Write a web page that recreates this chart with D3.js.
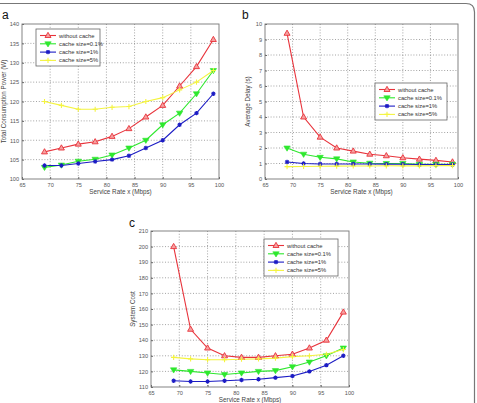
<!DOCTYPE html>
<html>
<head>
<meta charset="utf-8">
<script src="https://cdn.jsdelivr.net/npm/d3@7"></script>
<style>
  body { margin: 0; background: #fff; }
  svg { display: block; font-family: "Liberation Sans", Arial, sans-serif; }
</style>
</head>
<body>
<div id="chart"></div>
<script>
// service rate on the x axis, shared by all three panels
const rates = [69, 72, 75, 78, 81, 84, 87, 90, 93, 96, 99];
const seriesNames = ["without cache", "cache size=0.1%", "cache size=1%", "cache size=5%"];

// (a) total consumption power
const powerNoCache = [107, 108, 109, 109.6, 111, 113, 116, 119, 124, 129, 136];
const powerCache01 = [103, 103.6, 104.6, 105.1, 106.2, 108, 110, 114, 117, 122, 128];
const powerCache1 = [103.5, 103.5, 104, 104.5, 105, 106, 108, 110, 114, 117, 122];
const powerCache5 = [120, 119, 118, 118, 118.5, 118.7, 120, 121, 123, 125, 128];

// (b) average delay
const delayNoCache = [9.4, 4.0, 2.7, 2.0, 1.8, 1.6, 1.5, 1.37, 1.28, 1.2, 1.1];
const delayCache01 = [2.0, 1.6, 1.4, 1.3, 1.1, 1.02, 1.0, 1.0, 0.95, 0.95, 0.95];
const delayCache1 = [1.1, 1.0, 0.97, 0.97, 0.97, 0.97, 0.96, 0.95, 0.94, 0.93, 0.93];
const delayCache5 = [0.8, 0.81, 0.82, 0.83, 0.84, 0.84, 0.85, 0.85, 0.85, 0.86, 0.86];

// (c) system cost
const costNoCache = [200, 147, 135, 130, 129, 129, 130, 131, 135, 140, 158];
const costCache01 = [121, 120, 119, 118, 119, 120, 120.5, 123, 126, 130, 135];
const costCache1 = [114, 113.5, 113.5, 114, 114.5, 115, 116, 117, 120, 124, 130];
const costCache5 = [129, 128, 127.5, 127.5, 127.8, 128, 128.5, 129.5, 130, 131, 134];

const xTicks = [65, 70, 75, 80, 85, 90, 95, 100];
const powerTicks = [100, 105, 110, 115, 120, 125, 130, 135, 140];
const delayTicks = [0, 1, 2, 3, 4, 5, 6, 7, 8, 9, 10];
const costTicks = [110, 120, 130, 140, 150, 160, 170, 180, 190, 200, 210];

const colors = ["#e8333b", "#2ee82e", "#1c1cc4", "#f4f440"];
const markerKinds = ["up", "down", "star", "plus"];

const W = 477, H = 403;
const svg = d3.select("#chart").append("svg")
  .attr("width", W).attr("height", H);

// outer frame of the figure (top and right edges, rounded corner)
svg.append("path")
  .attr("d", "M0,3.5 H466 Q474.5,3.5 474.5,12 V403")
  .attr("fill", "none").attr("stroke", "#777").attr("stroke-width", 1.2);

function drawMarker(g, kind, color, cx, cy) {
  if (kind === "up") {
    g.append("path")
      .attr("d", `M${cx},${cy - 3.2} L${cx + 3},${cy + 2} L${cx - 3},${cy + 2} Z`)
      .attr("fill", "#f5a0a0").attr("stroke", color).attr("stroke-width", 0.9);
  } else if (kind === "down") {
    g.append("path")
      .attr("d", `M${cx},${cy + 3.2} L${cx + 3.2},${cy - 2} L${cx - 3.2},${cy - 2} Z`)
      .attr("fill", color).attr("stroke", color).attr("stroke-width", 0.6);
  } else if (kind === "star") {
    g.append("path")
      .attr("d", `M${cx - 2.2},${cy} H${cx + 2.2} M${cx},${cy - 2.2} V${cy + 2.2} M${cx - 1.6},${cy - 1.6} L${cx + 1.6},${cy + 1.6} M${cx - 1.6},${cy + 1.6} L${cx + 1.6},${cy - 1.6}`)
      .attr("stroke", color).attr("stroke-width", 1.1);
  } else {
    g.append("path")
      .attr("d", `M${cx - 2.6},${cy} H${cx + 2.6} M${cx},${cy - 2.6} V${cy + 2.6}`)
      .attr("stroke", color).attr("stroke-width", 1.1);
  }
}

function drawPanel(opt) {
  const g = svg.append("g");
  const x = d3.scaleLinear().domain([65, 100]).range([opt.left, opt.right]);
  const y = d3.scaleLinear().domain(opt.yDomain).range([opt.bottom, opt.top]);

  g.append("rect")
    .attr("x", opt.left).attr("y", opt.top)
    .attr("width", opt.right - opt.left).attr("height", opt.bottom - opt.top)
    .attr("fill", "#fff");

  // dotted grid
  g.append("g").selectAll("line.vg")
    .data(xTicks.slice(1, -1)).join("line")
    .attr("x1", d => x(d)).attr("x2", d => x(d))
    .attr("y1", opt.top).attr("y2", opt.bottom)
    .attr("stroke", "#666").attr("stroke-width", 0.6).attr("stroke-dasharray", "1,1.8");
  g.append("g").selectAll("line.hg")
    .data(opt.yTicks.slice(1, -1)).join("line")
    .attr("x1", opt.left).attr("x2", opt.right)
    .attr("y1", d => y(d)).attr("y2", d => y(d))
    .attr("stroke", "#666").attr("stroke-width", 0.6).attr("stroke-dasharray", "1,1.8");

  // axes with inward ticks
  const xAxis = g.append("g").attr("transform", `translate(0,${opt.bottom})`)
    .call(d3.axisBottom(x).tickValues(xTicks).tickSizeInner(-2).tickSizeOuter(0).tickPadding(4));
  const yAxis = g.append("g").attr("transform", `translate(${opt.left},0)`)
    .call(d3.axisLeft(y).tickValues(opt.yTicks).tickSizeInner(-2).tickSizeOuter(0).tickPadding(3));
  [xAxis, yAxis].forEach(a => {
    a.select(".domain").remove();
    a.selectAll("line").attr("stroke", "#666");
    a.selectAll("text").attr("fill", "#555").style("font-size", "5.6px");
  });

  g.append("rect")
    .attr("x", opt.left).attr("y", opt.top)
    .attr("width", opt.right - opt.left).attr("height", opt.bottom - opt.top)
    .attr("fill", "none").attr("stroke", "#777").attr("stroke-width", 0.9);

  // series
  const line = d3.line().x((d, i) => x(rates[i])).y(d => y(d));
  opt.series.forEach((vals, k) => {
    g.append("path").datum(vals)
      .attr("d", line).attr("fill", "none")
      .attr("stroke", colors[k]).attr("stroke-width", 1.1);
  });
  opt.series.forEach((vals, k) => {
    vals.forEach((v, i) => drawMarker(g, markerKinds[k], colors[k], x(rates[i]), y(v)));
  });

  // titles
  g.append("text")
    .attr("x", (opt.left + opt.right) / 2).attr("y", opt.bottom + 15)
    .attr("text-anchor", "middle").attr("fill", "#444").style("font-size", "6.3px")
    .text("Service Rate x (Mbps)");
  g.append("text")
    .attr("transform", `translate(${opt.yTitleX},${(opt.top + opt.bottom) / 2}) rotate(-90)`)
    .attr("text-anchor", "middle").attr("fill", "#444").style("font-size", "6.3px")
    .text(opt.yTitle);
  g.append("text")
    .attr("x", opt.labelX).attr("y", opt.labelY)
    .attr("fill", "#111").style("font-size", "12px")
    .text(opt.label);

  // legend
  const lg = g.append("g").attr("transform", `translate(${opt.legX},${opt.legY})`);
  lg.append("rect").attr("width", opt.legW).attr("height", 37)
    .attr("fill", "#fff").attr("stroke", "#666").attr("stroke-width", 0.8);
  seriesNames.forEach((name, k) => {
    const ry = 6.5 + k * 8.3;
    lg.append("line").attr("x1", 4).attr("x2", 20).attr("y1", ry).attr("y2", ry)
      .attr("stroke", colors[k]).attr("stroke-width", 1.1);
    drawMarker(lg, markerKinds[k], colors[k], 12, ry);
    lg.append("text").attr("x", 23).attr("y", ry + 2)
      .attr("fill", "#333").style("font-size", "5.8px").text(name);
  });
}

drawPanel({
  left: 22, right: 219, top: 24, bottom: 179,
  yDomain: [100, 140], yTicks: powerTicks,
  series: [powerNoCache, powerCache01, powerCache1, powerCache5],
  yTitle: "Total Consumption Power (W)", yTitleX: 6,
  label: "a", labelX: 2, labelY: 19,
  legX: 36, legY: 29, legW: 64
});

drawPanel({
  left: 265, right: 458, top: 24, bottom: 179,
  yDomain: [0, 10], yTicks: delayTicks,
  series: [delayNoCache, delayCache01, delayCache1, delayCache5],
  yTitle: "Average Delay (s)", yTitleX: 250,
  label: "b", labelX: 242, labelY: 19,
  legX: 375, legY: 83, legW: 72
});

drawPanel({
  left: 151, right: 349, top: 231, bottom: 387,
  yDomain: [110, 210], yTicks: costTicks,
  series: [costNoCache, costCache01, costCache1, costCache5],
  yTitle: "System Cost", yTitleX: 135,
  label: "c", labelX: 129, labelY: 227,
  legX: 264, legY: 239, legW: 74
});
</script>
</body>
</html>
